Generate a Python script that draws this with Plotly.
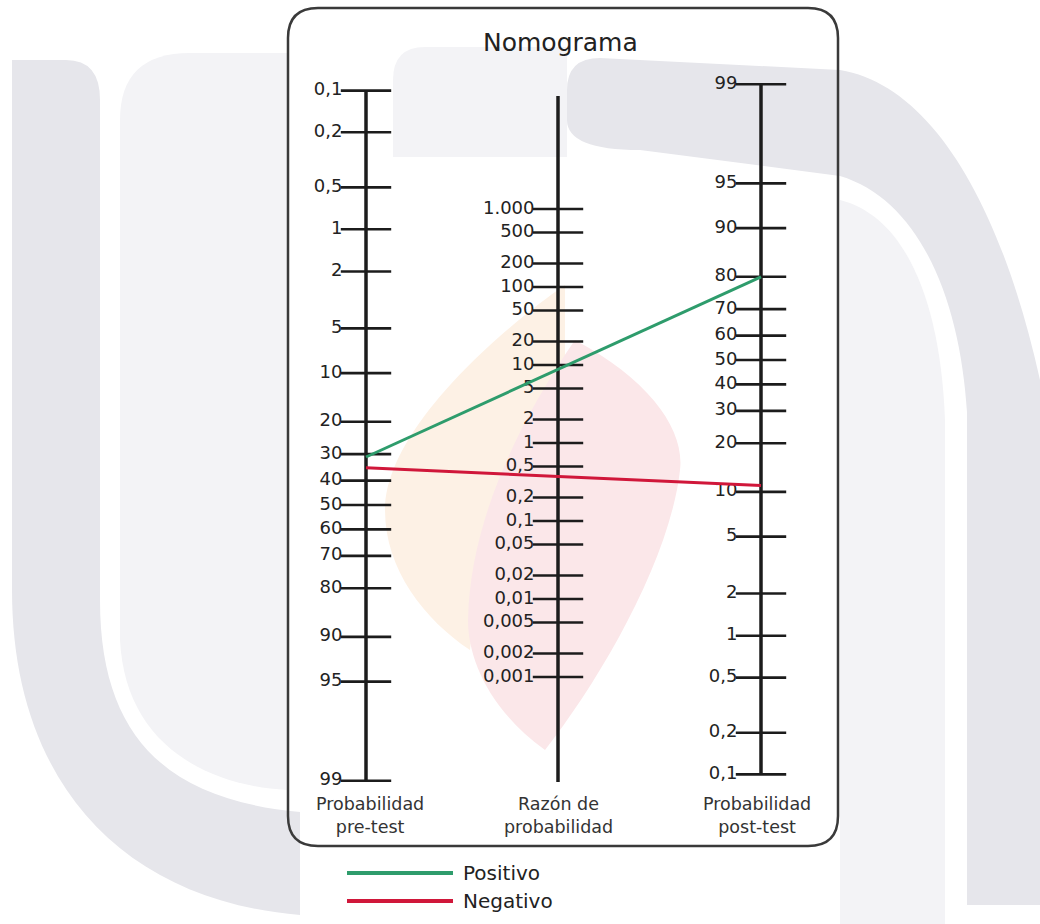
import numpy as np
import plotly.graph_objects as go

# ---------------- data ----------------
pre_ticks = [0.1, 0.2, 0.5, 1, 2, 5, 10, 20, 30, 40, 50, 60, 70, 80, 90, 95, 99]
pre_labels = ["0,1", "0,2", "0,5", "1", "2", "5", "10", "20", "30", "40", "50", "60", "70", "80", "90", "95", "99"]

lr_ticks = [1000, 500, 200, 100, 50, 20, 10, 5, 2, 1, 0.5, 0.2, 0.1, 0.05, 0.02, 0.01, 0.005, 0.002, 0.001]
lr_labels = ["1.000", "500", "200", "100", "50", "20", "10", "5", "2", "1", "0,5", "0,2", "0,1",
             "0,05", "0,02", "0,01", "0,005", "0,002", "0,001"]

post_ticks = [99, 95, 90, 80, 70, 60, 50, 40, 30, 20, 10, 5, 2, 1, 0.5, 0.2, 0.1]
post_labels = ["99", "95", "90", "80", "70", "60", "50", "40", "30", "20", "10", "5", "2", "1", "0,5", "0,2", "0,1"]

series_names = ["Positivo", "Negativo"]
series_pre = [31, 35]      # pre-test probability (%)
series_post = [80, 11]     # post-test probability (%)
series_colors = ["#2e9c6c", "#d0173a"]

axis_titles = ["Probabilidad<br>pre-test", "Razón de<br>probabilidad", "Probabilidad<br>post-test"]

# ---------------- scales (page pixel space) ----------------
X_PRE, X_LR, X_POST = 366, 558, 761


def logit(p):
    p = np.asarray(p, dtype=float) / 100.0
    return np.log(p / (1 - p))


def pre_y(p):
    return 505 + 60 * logit(p)


def post_y(p):
    return 360 - 60 * logit(p)


def lr_y(v):
    return 443 - 78 * np.log10(np.asarray(v, dtype=float))


INK = "#1c1c1c"
FONT = "DejaVu Sans"

fig = go.Figure()

# axis lines
fig.add_trace(go.Scatter(x=[X_PRE, X_PRE], y=[pre_y(pre_ticks[0]), pre_y(pre_ticks[-1])],
                         mode="lines", line=dict(color=INK, width=3.5), hoverinfo="skip", showlegend=False))
fig.add_trace(go.Scatter(x=[X_LR, X_LR], y=[96, 782],
                         mode="lines", line=dict(color=INK, width=3.5), hoverinfo="skip", showlegend=False))
fig.add_trace(go.Scatter(x=[X_POST, X_POST], y=[post_y(post_ticks[0]), post_y(post_ticks[-1])],
                         mode="lines", line=dict(color=INK, width=3.5), hoverinfo="skip", showlegend=False))

# ticks + labels
for xpos, vals, labs, fn in [(X_PRE, pre_ticks, pre_labels, pre_y),
                             (X_LR, lr_ticks, lr_labels, lr_y),
                             (X_POST, post_ticks, post_labels, post_y)]:
    fig.add_trace(go.Scatter(
        x=[xpos] * len(vals), y=fn(vals), mode="markers+text",
        marker=dict(symbol="line-ew", size=36, color=INK, line=dict(width=2.6, color=INK)),
        text=labs, textposition="middle left",
        textfont=dict(family=FONT, size=18, color="#222222"),
        hoverinfo="skip", showlegend=False))

# result lines
for name, p0, p1, col in zip(series_names, series_pre, series_post, series_colors):
    fig.add_trace(go.Scatter(x=[X_PRE, X_POST], y=[float(pre_y(p0)), float(post_y(p1))],
                             mode="lines", line=dict(color=col, width=3), name=name,
                             hoverinfo="skip", showlegend=False))

# custom legend below the frame
for i, (name, col) in enumerate(zip(series_names, series_colors)):
    yy = 873 + 28 * i
    fig.add_trace(go.Scatter(x=[347, 453], y=[yy, yy], mode="lines",
                             line=dict(color=col, width=4), hoverinfo="skip", showlegend=False))
    fig.add_annotation(x=461, y=yy, text=name, showarrow=False, xanchor="left", yanchor="middle",
                       font=dict(family=FONT, size=20, color="#222222"))

# axis titles
for xpos, t in zip([X_PRE + 4, X_LR, X_POST - 4], axis_titles):
    fig.add_annotation(x=xpos, y=815, text=t, showarrow=False, xanchor="center", yanchor="middle",
                       font=dict(family=FONT, size=17.5, color="#333333"))

# title
fig.add_annotation(x=560, y=42, text="Nomograma", showarrow=False, xanchor="center", yanchor="middle",
                   font=dict(family=FONT, size=25, color="#222222"))

# ---------------- decorative background (watermark) + frame ----------------
DARK = "#e6e6eb"
LIGHT = "#f3f3f6"
shapes = [
    dict(path="M 12,60 L 66,60 Q 100,60 100,100 L 100,600 C 100,740 170,800 300,812 L 300,915 "
              "C 120,900 12,780 12,590 Z", fillcolor=DARK),
    dict(path="M 120,120 Q 120,53 190,53 L 287,53 L 287,790 C 200,785 125,740 120,640 Z", fillcolor=LIGHT),
    dict(path="M 393,80 Q 393,47 425,47 L 567,47 L 567,157 L 393,157 Z", fillcolor=LIGHT),
    dict(path="M 567,90 Q 567,58 600,58 L 840,70 C 930,85 1000,200 1040,380 L 1040,905 L 967,905 "
              "L 967,412 C 960,300 920,200 840,176 L 640,150 Q 567,150 567,120 Z", fillcolor=DARK),
    dict(path="M 840,200 C 900,215 940,290 945,420 L 945,924 L 840,924 Z", fillcolor=LIGHT),
    dict(path="M 565,285 C 500,330 385,430 385,510 C 385,570 425,620 470,650 C 480,560 530,440 565,400 Z",
         fillcolor="#fdf1e5"),
    dict(path="M 575,340 C 650,380 685,430 680,470 C 670,560 600,680 545,750 C 490,710 468,660 468,620 "
              "C 470,520 520,420 575,340 Z", fillcolor="#fbe7e9"),
]
layout_shapes = []
for s in shapes:
    layout_shapes.append(dict(type="path", path=s["path"], xref="x", yref="y",
                              fillcolor=s["fillcolor"], line=dict(width=0), layer="below"))
# rounded frame
layout_shapes.append(dict(
    type="path", xref="x", yref="y", layer="below",
    path="M 318,8 L 808,8 Q 838,8 838,38 L 838,816 Q 838,846 808,846 L 318,846 Q 288,846 288,816 "
         "L 288,38 Q 288,8 318,8 Z",
    line=dict(color="#3a3a3a", width=2.5), fillcolor="rgba(0,0,0,0)"))

fig.update_layout(
    width=1040, height=924,
    margin=dict(l=0, r=0, t=0, b=0),
    paper_bgcolor="white", plot_bgcolor="white",
    xaxis=dict(range=[0, 1040], visible=False, fixedrange=True),
    yaxis=dict(range=[924, 0], visible=False, fixedrange=True),
    shapes=layout_shapes,
    showlegend=False,
)

fig.write_html("out.html", config={"displayModeBar": False},
               post_script="document.body.style.margin='0';")
